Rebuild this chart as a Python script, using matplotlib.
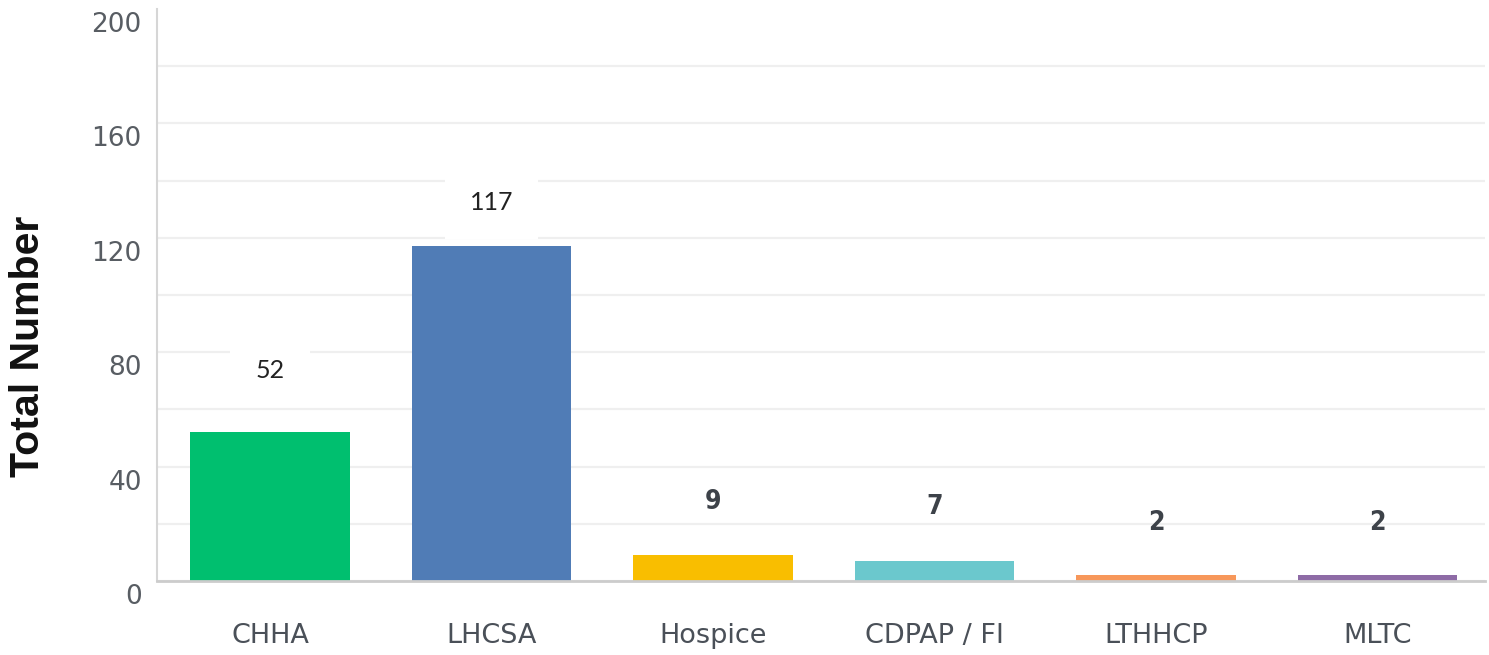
import matplotlib
matplotlib.use("Agg")
import matplotlib.pyplot as plt
import matplotlib.transforms as mtransforms

# Chart data
categories = ["CHHA", "LHCSA", "Hospice", "CDPAP / FI", "LTHHCP", "MLTC"]
totals = [52, 117, 9, 7, 2, 2]
y_ticks = [0, 20, 40, 60, 80, 100, 120, 140, 160, 180, 200]
y_tick_labels = ["0", "", "40", "", "80", "", "120", "", "160", "", "200"]

# Styling
bar_colors = ["#00BF6F", "#507CB6", "#F9BE00", "#6BC8CD", "#F7975A", "#8E6BA6"]
label_gap_px = [62, 44, 53, 54, 52, 52]

fig = plt.figure(figsize=(14.89, 6.55), dpi=100)
ax = fig.add_axes([157 / 1489, 74 / 655, 1328 / 1489, 572 / 655])

x = list(range(len(categories)))
ax.bar(x, totals, width=0.72, color=bar_colors, zorder=3)

ax.set_xlim(-0.51, 5.485)
ax.set_ylim(0, 200)

ax.set_yticks(y_ticks)
ax.set_yticklabels(y_tick_labels)
ax.set_xticks(x)
ax.set_xticklabels(categories)

ax.grid(True, axis="y", color="#efefef", linewidth=1.6, zorder=0)
ax.yaxis.get_gridlines()[-1].set_visible(False)

ax.tick_params(axis="y", length=0, pad=11, labelsize=19, labelcolor="#585d63")
ax.tick_params(axis="x", length=0, pad=30, labelsize=19.5, labelcolor="#4a5058")

# y tick labels sit a little below their gridline
shift = mtransforms.ScaledTranslation(0, -0.13, fig.dpi_scale_trans)
for lbl in ax.get_yticklabels():
    lbl.set_transform(lbl.get_transform() + shift)

for side in ["top", "right"]:
    ax.spines[side].set_visible(False)
ax.spines["left"].set_color("#d6d6d6")
ax.spines["left"].set_linewidth(1.5)
ax.spines["bottom"].set_color("#cccccc")
ax.spines["bottom"].set_linewidth(2)
ax.spines["bottom"].set_zorder(4)

# value labels
for i, v in enumerate(totals):
    if v > 20:
        ax.annotate(str(v), (i, v), xytext=(0, label_gap_px[i] * 0.72),
                    textcoords="offset points", ha="center", va="center",
                    fontsize=18, family="Lato", color="#222222", zorder=5,
                    bbox=dict(boxstyle="square,pad=1.0", fc="white", ec="none"))
    else:
        ax.annotate(str(v), (i, v), xytext=(0, label_gap_px[i] * 0.72),
                    textcoords="offset points", ha="center", va="center",
                    fontsize=19, fontweight="bold", fontstretch="condensed",
                    color="#3d4249", zorder=5)

fig.text(28 / 1489, 1 - 346 / 655, "Total Number", rotation=90, ha="center",
         va="center", fontsize=29.5, fontweight="bold", family="Liberation Sans",
         color="#111111")

fig.savefig("out.png", dpi=100)
